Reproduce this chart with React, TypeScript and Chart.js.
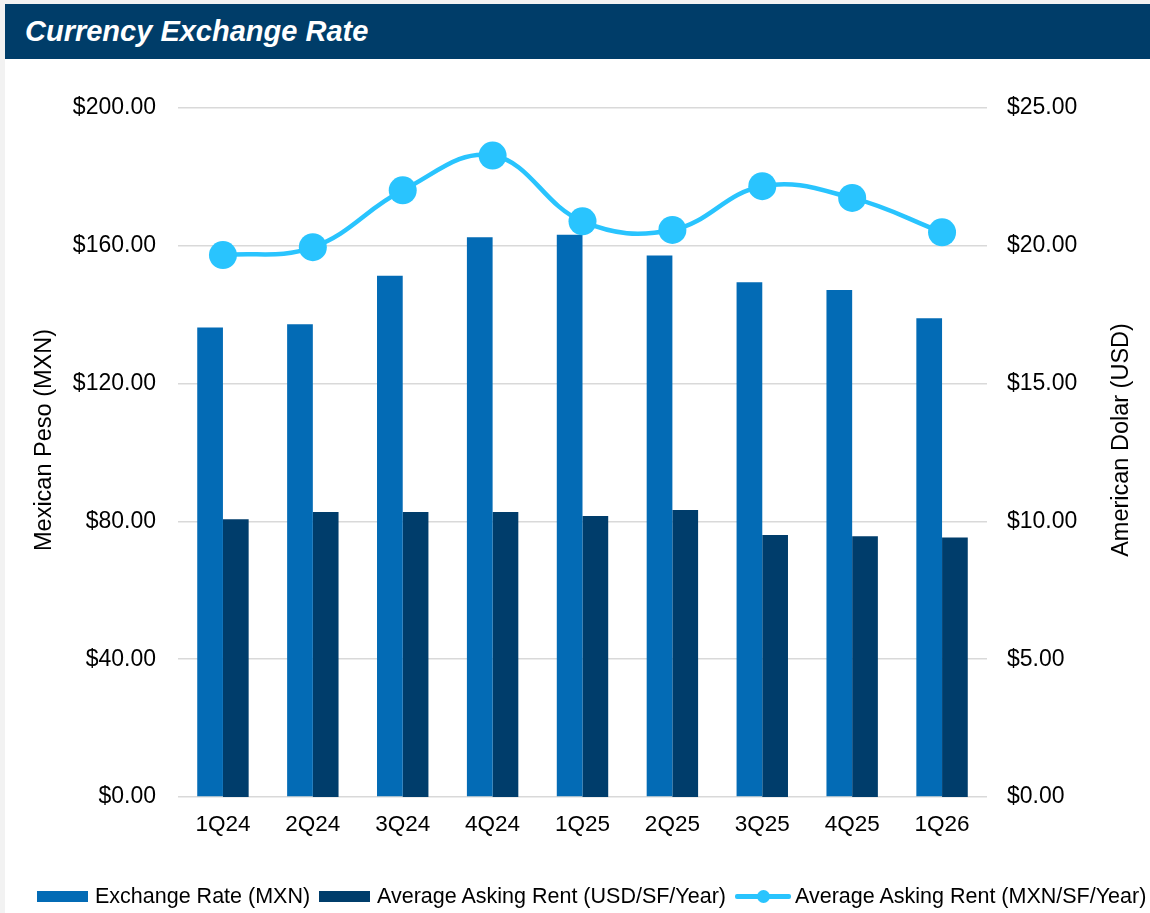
import React, { useEffect, useRef } from "react";
import { Chart, registerables } from "chart.js";

Chart.register(...registerables);

const quarters = ["1Q24", "2Q24", "3Q24", "4Q24", "1Q25", "2Q25", "3Q25", "4Q25", "1Q26"];
const exchangeRateMXN = [136.3, 137.2, 151.3, 162.5, 163.2, 157.2, 149.4, 147.2, 139.0];
const rentUSD = [10.08, 10.34, 10.34, 10.34, 10.2, 10.41, 9.51, 9.46, 9.42];
const rentMXN = [157.3, 159.6, 176.1, 186.2, 167.1, 164.6, 177.3, 173.9, 163.9];

const FONT = "'Liberation Sans', Arial, Helvetica, sans-serif";
const C_LIGHT = "#036bb5";
const C_DARK = "#003d6b";
const C_LINE = "#29c4fe";

const axisTitles = {
  id: "axisTitles",
  afterDraw(chart: any) {
    const ctx = chart.ctx;
    ctx.save();
    ctx.fillStyle = "#000";
    ctx.font = `23.5px ${FONT}`;
    ctx.textAlign = "center";
    ctx.textBaseline = "middle";
    const cy = 381;
    ctx.translate(40, cy);
    ctx.rotate(-Math.PI / 2);
    ctx.fillText("Mexican Peso (MXN)", 0, 0);
    ctx.restore();
    ctx.save();
    ctx.fillStyle = "#000";
    ctx.font = `23.5px ${FONT}`;
    ctx.textAlign = "center";
    ctx.textBaseline = "middle";
    ctx.translate(1117, cy);
    ctx.rotate(-Math.PI / 2);
    ctx.fillText("American Dolar (USD)", 0, 0);
    ctx.restore();
  },
};

export default function App() {
  const ref = useRef<HTMLCanvasElement>(null);
  useEffect(() => {
    if (!ref.current) return;
    const money = (v: any) => "$" + Number(v).toFixed(2);
    const chart = new Chart(ref.current, {
      type: "bar",
      data: {
        labels: quarters,
        datasets: [
          {
            type: "line",
            label: "Average Asking Rent (MXN/SF/Year)",
            data: rentMXN,
            yAxisID: "y",
            borderColor: C_LINE,
            backgroundColor: C_LINE,
            borderWidth: 4.5,
            pointRadius: 14,
            pointHoverRadius: 14,
            pointBackgroundColor: C_LINE,
            pointBorderWidth: 0,
            tension: 0.4,
            order: 0,
          } as any,
          {
            label: "Exchange Rate (MXN)",
            data: exchangeRateMXN,
            yAxisID: "y",
            backgroundColor: C_LIGHT,
            order: 1,
          },
          {
            label: "Average Asking Rent (USD/SF/Year)",
            data: rentUSD,
            yAxisID: "y1",
            backgroundColor: C_DARK,
            order: 1,
          },
        ],
      },
      options: {
        animation: false,
        responsive: false,
        maintainAspectRatio: false,
        datasets: { bar: { barPercentage: 1, categoryPercentage: 0.572 } },
        layout: { padding: { top: 49, left: 0, right: 0, bottom: 0 } },
        plugins: { legend: { display: false }, tooltip: { enabled: false } },
        scales: {
          x: {
            grid: { display: false, drawTicks: false },
            border: { display: false },
            ticks: { color: "#000", font: { family: FONT, size: 22.5 }, padding: 14, maxRotation: 0 },
            afterFit: (s: any) => {
              s.height = 116;
            },
          },
          y: {
            position: "left",
            min: 0,
            max: 200,
            ticks: { stepSize: 40, callback: money, color: "#000", font: { family: FONT, size: 23 }, padding: 22 },
            grid: { color: "#d9d9d9", lineWidth: 1.5, drawTicks: false },
            border: { display: false },
            afterFit: (s: any) => {
              s.width = 173;
            },
          },
          y1: {
            position: "right",
            min: 0,
            max: 25,
            ticks: { stepSize: 5, callback: money, color: "#000", font: { family: FONT, size: 23 }, padding: 20 },
            grid: { display: false, drawTicks: false },
            border: { display: false },
            afterFit: (s: any) => {
              s.width = 163;
            },
          },
        },
      },
      plugins: [axisTitles],
    });
    return () => chart.destroy();
  }, []);

  const legendText: React.CSSProperties = {
    position: "absolute",
    top: 881,
    fontFamily: FONT,
    fontSize: 21.5,
    lineHeight: "30px",
    color: "#000",
    whiteSpace: "nowrap",
  };

  return (
    <div style={{ position: "absolute", left: 0, top: 0, width: 1150, height: 913, background: "#f2f2f2", overflow: "hidden" }}>
      <div style={{ position: "absolute", left: 5, top: 4, width: 1145, height: 909, background: "#ffffff" }} />
      <div
        style={{
          position: "absolute",
          left: 5,
          top: 4,
          width: 1145,
          height: 55,
          background: "#003d69",
          color: "#fff",
          fontFamily: FONT,
          fontWeight: "bold",
          fontStyle: "italic",
          fontSize: 29,
          lineHeight: "55px",
          boxSizing: "border-box",
          paddingLeft: 20,
        }}
      >
        Currency Exchange Rate
      </div>
      <canvas ref={ref} width={1145} height={854} style={{ position: "absolute", left: 5, top: 59, width: 1145, height: 854 }} />
      <div style={{ position: "absolute", left: 37, top: 891, width: 51, height: 11, background: C_LIGHT }} />
      <div style={{ ...legendText, left: 95 }}>Exchange Rate (MXN)</div>
      <div style={{ position: "absolute", left: 319, top: 891, width: 51, height: 11, background: C_DARK }} />
      <div style={{ ...legendText, left: 377 }}>Average Asking Rent (USD/SF/Year)</div>
      <div style={{ position: "absolute", left: 735, top: 894, width: 56, height: 5, background: C_LINE, borderRadius: 2 }} />
      <div style={{ position: "absolute", left: 757, top: 890, width: 13, height: 13, background: C_LINE, borderRadius: "50%" }} />
      <div style={{ ...legendText, left: 795 }}>Average Asking Rent (MXN/SF/Year)</div>
    </div>
  );
}
